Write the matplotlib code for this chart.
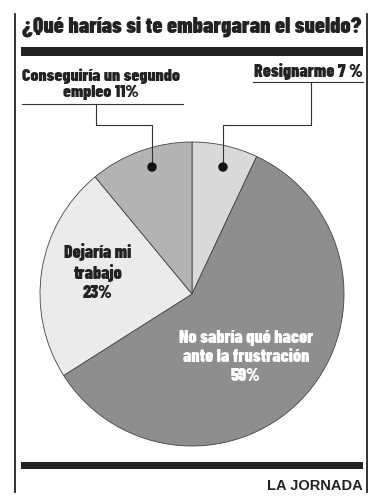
import matplotlib.pyplot as plt
from matplotlib.patches import Rectangle, Circle

plt.rcParams['font.family'] = ['Barlow Condensed', 'DejaVu Sans']

# datos
titulo = '¿Qué harías si te embargaran el sueldo?'
etiquetas = ['Resignarme 7 %',
             'No sabría qué hacer\nante la frustración\n59%',
             'Dejaría mi\ntrabajo\n23%',
             'Conseguiría un segundo\nempleo 11%']
valores = [7, 59, 23, 11]
colores = ['#d9d9d9', '#8e8e8e', '#ebebeb', '#b3b3b3']
fuente = 'LA JORNADA'

H = 500
PESO = 900
fig = plt.figure(figsize=(3.82, 5.0), dpi=100)
ax = fig.add_axes([0, 0, 1, 1])

def y(v):
    # coordenadas en pixeles desde arriba
    return H - v

# pastel
cx, cy, r = 192, y(294), 152
wedges, _ = ax.pie(valores, colors=colores, startangle=90, counterclock=False,
                   center=(cx, cy), radius=r, frame=True,
                   wedgeprops=dict(edgecolor='#444444', linewidth=0.6))
ax.set_xlim(0, 382)
ax.set_ylim(0, H)
ax.set_aspect('auto')
ax.axis('off')

# marco lateral
ax.plot([15, 15], [y(14), y(492)], color='#222222', lw=1.3)
ax.plot([367, 367], [y(14), y(492)], color='#222222', lw=1.3)

# titulo y barras
ax.text(192, y(27), titulo, ha='center', va='center', fontsize=16.1,
        fontweight=PESO, color='#222222')
ax.add_patch(Rectangle((21, y(56)), 342, 9, color='#222222', lw=0))
ax.add_patch(Rectangle((21, y(469)), 342, 7, color='#222222', lw=0))
ax.text(363, y(486), fuente, ha='right', va='center', fontsize=10.5,
        fontweight='bold', color='#222222', family=['Liberation Sans', 'DejaVu Sans'])

# etiquetas internas
ax.text(98, y(272), etiquetas[2], ha='center', va='center', fontsize=12.8,
        fontweight=PESO, color='#222222', linespacing=1.2)
ax.text(246, y(357), etiquetas[1], ha='center', va='center', fontsize=12.8,
        fontweight=PESO, color='white', linespacing=1.2)

# etiquetas externas con lineas guia
ax.text(101, y(84), etiquetas[3], ha='center', va='center', fontsize=12.6,
        fontweight=PESO, color='#222222', linespacing=1.05)
ax.plot([22, 183], [y(104), y(104)], color='#333333', lw=0.8)
ax.plot([96, 96, 152, 152], [y(104), y(125), y(125), y(167)], color='#333333', lw=0.8)
ax.add_patch(Circle((152, y(167)), 4, color='#111111', zorder=5))

ax.text(308, y(71), etiquetas[0], ha='center', va='center', fontsize=12.8,
        fontweight=PESO, color='#222222')
ax.plot([253, 363], [y(82), y(82)], color='#333333', lw=0.8)
ax.plot([311, 311, 223, 223], [y(82), y(125), y(125), y(167)], color='#333333', lw=0.8)
ax.add_patch(Circle((223, y(167)), 4, color='#111111', zorder=5))

plt.savefig('out.png', dpi=100)
